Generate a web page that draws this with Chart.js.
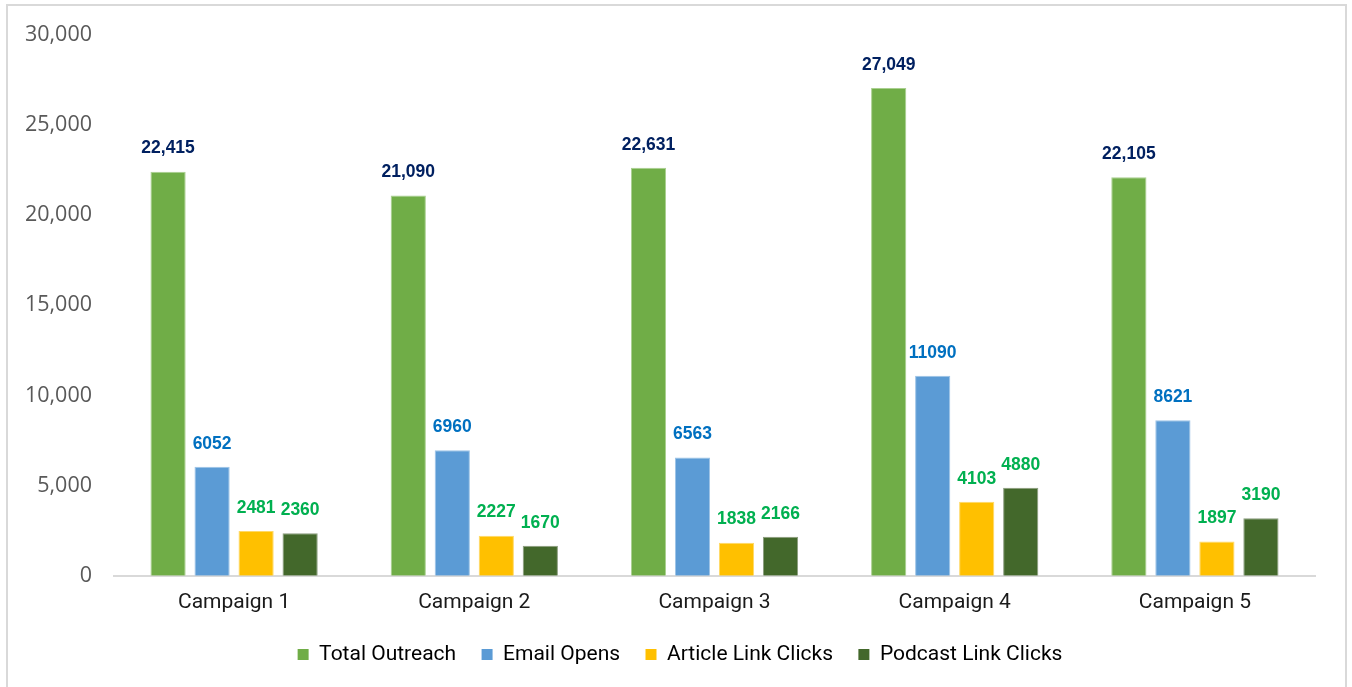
<!DOCTYPE html>
<html>
<head>
<meta charset="utf-8">
<script src="https://cdn.jsdelivr.net/npm/chart.js@4/dist/chart.umd.min.js"></script>
<style>
html,body{margin:0;padding:0;background:#fff;overflow:hidden;}
#wrap{position:absolute;left:0;top:0;width:1352px;height:687px;}
#frame{position:absolute;left:6px;top:4px;width:1337px;height:700px;border:2px solid #d9d9d9;pointer-events:none;}
</style>
</head>
<body>
<div id="wrap"><canvas id="c" width="1352" height="687"></canvas></div>
<div id="frame"></div>
<script>
const categories = ["Campaign 1","Campaign 2","Campaign 3","Campaign 4","Campaign 5"];
const totalOutreach = [22415, 21090, 22631, 27049, 22105];
const emailOpens = [6052, 6960, 6563, 11090, 8621];
const articleClicks = [2481, 2227, 1838, 4103, 1897];
const podcastClicks = [2360, 1670, 2166, 4880, 3190];
const yTicks = [0, 5000, 10000, 15000, 20000, 25000, 30000];

const labelPlugin = {
  id: 'barLabels',
  afterLayout(chart) {
    if (chart.legend) chart.legend.left = 45;
  },
  afterDatasetsDraw(chart) {
    const ctx = chart.ctx;
    ctx.save();
    ctx.font = 'bold 17.5px "Liberation Sans", Arial, sans-serif';
    ctx.textAlign = 'center';
    ctx.textBaseline = 'middle';
    chart.data.datasets.forEach((ds, i) => {
      const meta = chart.getDatasetMeta(i);
      meta.data.forEach((bar, j) => {
        const v = ds.data[j];
        const txt = ds.labelComma ? v.toLocaleString('en-US') : String(v);
        ctx.fillStyle = ds.labelColor;
        ctx.fillText(txt, bar.x, bar.y - 23);
      });
    });
    ctx.restore();
  }
};

new Chart(document.getElementById('c'), {
  type: 'bar',
  data: {
    labels: categories,
    datasets: [
      {label: 'Total Outreach', data: totalOutreach, backgroundColor: '#70AD47', borderColor: '#A9CF8F', borderWidth: 1, labelColor: '#002060', labelComma: true},
      {label: 'Email Opens', data: emailOpens, backgroundColor: '#5B9BD5', borderColor: '#9CC3E6', borderWidth: 1, labelColor: '#0070C0'},
      {label: 'Article Link Clicks', data: articleClicks, backgroundColor: '#FFC000', borderColor: '#FFD966', borderWidth: 1, labelColor: '#00B050'},
      {label: 'Podcast Link Clicks', data: podcastClicks, backgroundColor: '#43682B', borderColor: '#8A9C7E', borderWidth: 1, labelColor: '#00B050'}
    ]
  },
  options: {
    responsive: false,
    animation: false,
    maintainAspectRatio: false,
    layout: {padding: {left: 0, right: 37, top: 33, bottom: 12}},
    datasets: {bar: {categoryPercentage: 0.733, barPercentage: 0.8}},
    scales: {
      x: {
        grid: {display: false, drawTicks: false},
        border: {display: true, color: '#d9d9d9', width: 2},
        ticks: {color: '#1a1a1a', font: {family: 'Roboto', size: 21}, padding: 14}
      },
      y: {
        min: 0, max: 30000,
        afterFit(scale) { scale.width = 114; },
        afterBuildTicks(scale) { scale.ticks = yTicks.map(v => ({value: v})); },
        grid: {display: false, drawTicks: false},
        border: {display: false},
        ticks: {color: '#595959', font: {family: 'Open Sans', size: 21.5}, padding: 22,
          callback: v => v.toLocaleString('en-US')}
      }
    },
    plugins: {
      legend: {
        position: 'bottom',
        labels: {
          boxWidth: 11, boxHeight: 11, color: '#000', font: {family: 'Roboto', size: 21}, padding: 15,
          generateLabels(chart) {
            const items = Chart.defaults.plugins.legend.labels.generateLabels(chart);
            items.forEach((it, i) => { if (i < items.length - 1) it.text = it.text + '\u00a0\u00a0'; it.lineWidth = 0; });
            return items;
          }
        }
      },
      tooltip: {enabled: false}
    }
  },
  plugins: [labelPlugin]
});
</script>
</body>
</html>
